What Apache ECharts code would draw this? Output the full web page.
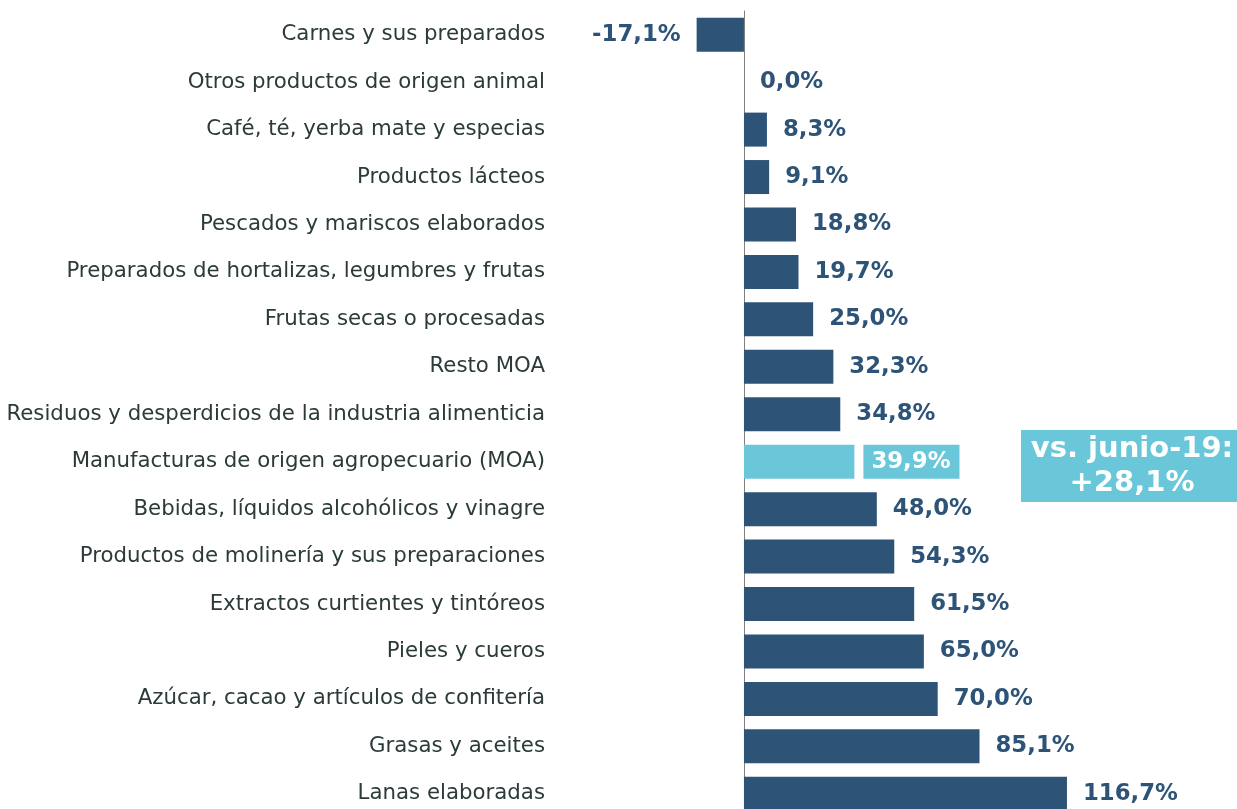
<!DOCTYPE html>
<html><head><meta charset="utf-8">
<script src="https://cdn.jsdelivr.net/npm/echarts@6/dist/echarts.min.js"></script>
<style>html,body{margin:0;padding:0;background:#fff}#c{width:1237px;height:809px}</style>
</head><body><div id="c"></div>
<script>
const categories = ["Carnes y sus preparados","Otros productos de origen animal","Café, té, yerba mate y especias","Productos lácteos","Pescados y mariscos elaborados","Preparados de hortalizas, legumbres y frutas","Frutas secas o procesadas","Resto MOA","Residuos y desperdicios de la industria alimenticia","Manufacturas de origen agropecuario (MOA)","Bebidas, líquidos alcohólicos y vinagre","Productos de molinería y sus preparaciones","Extractos curtientes y tintóreos","Pieles y cueros","Azúcar, cacao y artículos de confitería","Grasas y aceites","Lanas elaboradas"];
const values = [-17.1,0.0,8.3,9.1,18.8,19.7,25.0,32.3,34.8,39.9,48.0,54.3,61.5,65.0,70.0,85.1,116.7];
const highlightCategory = "Manufacturas de origen agropecuario (MOA)";
const annotationLines = ["vs. junio-19:","+28,1%"];

const DARK = "#2D5477", LIGHT = "#6AC7DA";
const fmt = v => v.toFixed(1).replace('.', ',') + '%';
const data = values.map((v,i) => {
  const hl = categories[i] === highlightCategory;
  const item = {value: v, itemStyle: {color: hl ? LIGHT : DARK}};
  if (hl) item.label = {color:'#fff', backgroundColor: LIGHT, padding:[6,9,5,8], distance: 9};
  if (v < 0) item.label = Object.assign(item.label||{}, {position:'left'});
  return item;
});
const chart = echarts.init(document.getElementById('c'));
chart.setOption({
  animation:false,
  grid:{left:688.6, right:22.5, top:11, height:806.5, containLabel:false, outerBoundsMode:'none'},
  xAxis:{type:'value', min:-20, max:170, show:false},
  yAxis:{type:'category', inverse:true, data:categories,
    axisLine:{show:true, onZero:true, lineStyle:{color:'#808080', width:1}},
    axisTick:{show:false},
    axisLabel:{margin:143.6, fontFamily:'DejaVu Sans', fontSize:21.3, color:'#2c3a3a'}},
  series:[{type:'bar', data:data, barWidth:34,
    label:{show:true, position:'right', distance:16, formatter:p=>fmt(p.value),
      fontFamily:'DejaVu Sans', fontWeight:'bold', fontSize:22.8, color:DARK}}],
  graphic:[{type:'group', left:1021, top:430, children:[
    {type:'rect', shape:{x:0,y:0,width:216,height:72}, style:{fill:LIGHT}},
    {type:'text', x:111, y:36, style:{text:annotationLines.join('\n'), align:'center', verticalAlign:'middle',
      fill:'#fff', fontFamily:'DejaVu Sans', fontWeight:'bold', fontSize:29, lineHeight:34}}
  ]}]
});
</script></body></html>
